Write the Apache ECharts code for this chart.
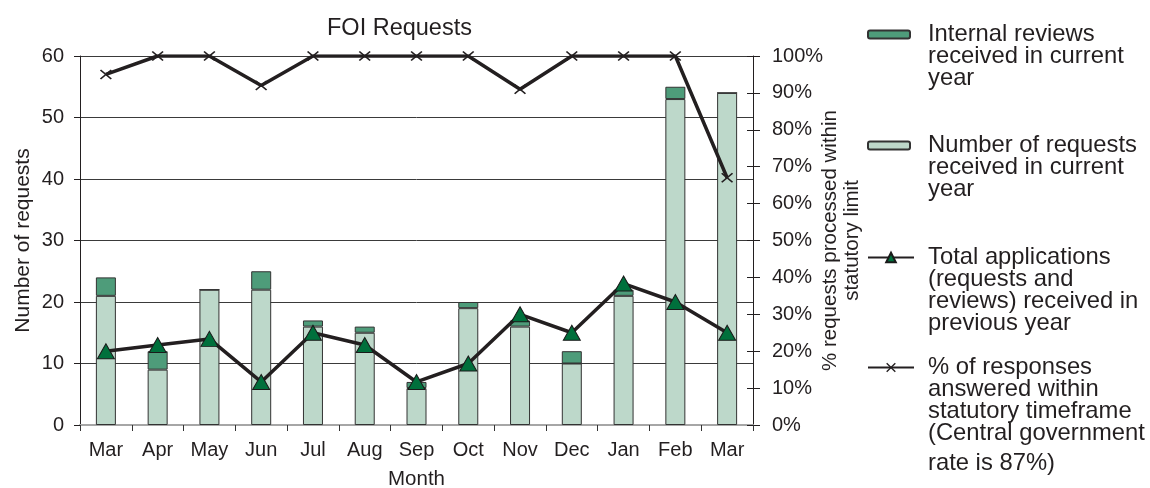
<!DOCTYPE html>
<html>
<head>
<meta charset="utf-8">
<script src="https://cdn.jsdelivr.net/npm/echarts@6/dist/echarts.min.js"></script>
<style>html,body{margin:0;padding:0;background:#fff;}#c{width:1150px;height:488px;}</style>
</head>
<body>
<div id="c"></div>
<script>
const months = ['Mar','Apr','May','Jun','Jul','Aug','Sep','Oct','Nov','Dec','Jan','Feb','Mar'];
const requestsCurrent = [21, 9, 22, 22, 16, 15, 6, 19, 16, 10, 21, 53, 54];
const reviewsCurrent = [3, 3, 0, 3, 1, 1, 1, 1, 1, 2, 1, 2, 0];
const totalPrevYear = [12, 13, 14, 7, 15, 13, 7, 10, 18, 15, 23, 20, 15];
const pctWithinLimit = [95, 100, 100, 92, 100, 100, 100, 100, 91, 100, 100, 100, 67];
const leftTicks = [0, 60, 10];
const rightTicks = [0, 100, 10];

const NAME_REV = 'Internal reviews received in current year';
const NAME_REQ = 'Number of requests received in current year';
const NAME_TOT = 'Total applications (requests and reviews) received in previous year';
const NAME_PCT = '% of responses answered within statutory timeframe (Central government rate is 87%)';

const LINES_REV = ['Internal reviews', 'received in current', 'year'];
const LINES_REQ = ['Number of requests', 'received in current', 'year'];
const LINES_TOT = ['Total applications', '(requests and', 'reviews) received in', 'previous year'];
const LINES_PCT = ['% of responses', 'answered within', 'statutory timeframe', '(Central government', 'rate is 87%)'];

const FONT = 'Liberation Sans, Arial, sans-serif';
const TXT = '#231f20';
const LFS = 23.8;
const LH = 22;

const chart = echarts.init(document.getElementById('c'), null, {renderer: 'canvas'});

function legendOf(name, firstLineY, lines, iconW, iconH, gap, lastLH) {
  const lhs = lines.map((l, i) => (i === lines.length - 1 ? lastLH : LH));
  const total = lhs.reduce((a, b) => a + b, 0);
  const filler = total - LH;
  let str = '{p| }';
  lines.forEach((l, i) => {
    str += '\n{s| }{' + (i === lines.length - 1 ? 'b' : 'a') + '|' + l + '}';
  });
  return {
    data: [name],
    left: 867,
    top: firstLineY - total / 2 + 1,
    orient: 'vertical',
    padding: 0,
    selectedMode: false,
    itemWidth: iconW,
    itemHeight: iconH,
    formatter: function () { return str; },
    textStyle: {
      fontFamily: FONT, fontSize: LFS, color: TXT,
      rich: {
        p: {fontSize: 1, lineHeight: filler},
        s: {fontSize: LFS, width: gap, lineHeight: LH},
        a: {fontFamily: FONT, fontSize: LFS, lineHeight: LH, color: TXT},
        b: {fontFamily: FONT, fontSize: LFS, lineHeight: lastLH, color: TXT}
      }
    }
  };
}

const option = {
  backgroundColor: '#fff',
  animation: false,
  title: {
    text: 'FOI Requests',
    left: 327,
    top: 17,
    padding: 0,
    textStyle: {fontFamily: FONT, fontSize: 23.5, fontWeight: 'normal', color: TXT}
  },
  legend: [
    legendOf(NAME_REV, 33, LINES_REV, 42, 8, 13, LH),
    legendOf(NAME_REQ, 144, LINES_REQ, 42, 8, 13, LH),
    legendOf(NAME_TOT, 256, LINES_TOT, 46, 12, 9, LH),
    legendOf(NAME_PCT, 366, LINES_PCT, 46, 12, 9, 38)
  ],
  grid: {left: 80, right: 397, top: 56, bottom: 63, containLabel: false, outerBoundsMode: 'none'},
  xAxis: {
    type: 'category',
    data: months,
    name: 'Month',
    nameLocation: 'middle',
    nameGap: 44,
    nameMoveOverlap: false,
    nameTextStyle: {fontFamily: FONT, fontSize: 20.5, color: TXT},
    axisLine: {show: true, lineStyle: {color: '#a6a6a6', width: 2}},
    axisTick: {show: true, alignWithLabel: false, length: 6, lineStyle: {color: '#333', width: 1}},
    axisLabel: {fontFamily: FONT, fontSize: 20, color: TXT, margin: 15, interval: 0},
    splitLine: {show: false}
  },
  yAxis: [
    {
      type: 'value',
      min: leftTicks[0], max: leftTicks[1], interval: leftTicks[2],
      name: 'Number of requests',
      nameLocation: 'middle',
      nameGap: 46,
      nameRotate: 90,
      nameMoveOverlap: false,
      nameTextStyle: {fontFamily: FONT, fontSize: 21, color: TXT},
      axisLine: {show: true, lineStyle: {color: '#231f20', width: 1}},
      axisTick: {show: true, length: 6, lineStyle: {color: '#231f20'}},
      axisLabel: {fontFamily: FONT, fontSize: 20, color: TXT, margin: 16},
      splitLine: {show: true, lineStyle: {color: '#3a3a3a', width: 1}}
    },
    {
      type: 'value',
      position: 'right',
      min: rightTicks[0], max: rightTicks[1], interval: rightTicks[2],
      name: '% requests processed within\nstatutory limit',
      nameLocation: 'middle',
      nameGap: 66,
      nameRotate: 90,
      nameMoveOverlap: false,
      nameTextStyle: {fontFamily: FONT, fontSize: 20.5, lineHeight: 22, color: TXT},
      axisLine: {show: true, lineStyle: {color: '#231f20', width: 1}},
      axisTick: {show: true, length: 7, lineStyle: {color: '#231f20'}},
      axisLabel: {fontFamily: FONT, fontSize: 20, color: TXT, margin: 19, formatter: '{value}%'},
      splitLine: {show: false}
    },
    {
      type: 'value',
      position: 'right',
      min: rightTicks[0], max: rightTicks[1], interval: rightTicks[2],
      axisLine: {show: false},
      axisTick: {show: true, inside: true, length: 6, lineStyle: {color: '#231f20'}},
      axisLabel: {show: false},
      splitLine: {show: false}
    }
  ],
  series: [
    {
      name: NAME_REQ,
      type: 'bar',
      stack: 'cur',
      barWidth: 20,
      data: requestsCurrent,
      itemStyle: {color: '#bdd8ca', borderColor: '#333', borderWidth: 1},
      z: 2
    },
    {
      name: NAME_REV,
      type: 'bar',
      stack: 'cur',
      barWidth: 20,
      data: reviewsCurrent,
      itemStyle: {color: '#4e9c7a', borderColor: '#333', borderWidth: 1},
      z: 2
    },
    {
      name: NAME_TOT,
      type: 'line',
      data: totalPrevYear,
      symbol: 'triangle',
      symbolSize: [17, 15],
      lineStyle: {color: '#231f20', width: 3.5},
      itemStyle: {color: '#00703c', borderColor: '#1a1a1a', borderWidth: 1},
      z: 4
    },
    {
      name: NAME_PCT,
      type: 'line',
      yAxisIndex: 1,
      data: pctWithinLimit,
      symbol: 'path://M0,1 L1,0 L5,4 L9,0 L10,1 L6,5 L10,9 L9,10 L5,6 L1,10 L0,9 L4,5 Z',
      symbolSize: [12, 10],
      lineStyle: {color: '#231f20', width: 3.5},
      itemStyle: {color: '#231f20', borderWidth: 0},
      z: 5
    }
  ]
};
chart.setOption(option);
</script>
</body>
</html>
